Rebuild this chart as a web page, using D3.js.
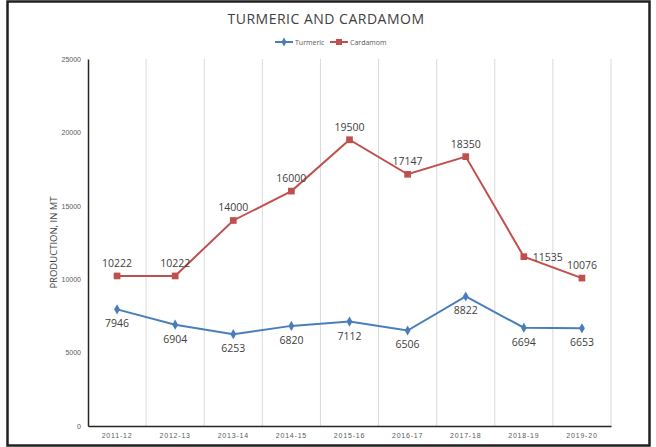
<!DOCTYPE html>
<html>
<head>
<meta charset="utf-8">
<script src="https://cdn.jsdelivr.net/npm/d3@7"></script>
<style>
  body { margin: 0; background: #fff; }
  svg { display: block; font-family: "Open Sans", sans-serif; }
  .grid line { stroke: #d9d9d9; stroke-width: 1; }
  .axis path, .axis line { stroke: #262626; }
  .axis text { fill: #595959; font-size: 7px; }
  .xaxis text { letter-spacing: 0.8px; }
  .lbl { fill: #404040; font-size: 10.5px; text-anchor: middle; }
</style>
</head>
<body>
<svg id="chart" width="656" height="447"></svg>
<script>
var categories = ["2011-12", "2012-13", "2013-14", "2014-15", "2015-16", "2016-17", "2017-18", "2018-19", "2019-20"];
var turmeric = [7946, 6904, 6253, 6820, 7112, 6506, 8822, 6694, 6653];
var cardamom = [10222, 10222, 14000, 16000, 19500, 17147, 18350, 11535, 10076];
var yTicks = [0, 5000, 10000, 15000, 20000, 25000];

var margin = {top: 59, right: 45, bottom: 21, left: 88};
var width = 656 - margin.left - margin.right;
var height = 447 - margin.top - margin.bottom;

var svg = d3.select("#chart");

// outer frame
svg.append("rect")
  .attr("x", 7.5).attr("y", 1.5)
  .attr("width", 642).attr("height", 444)
  .attr("fill", "none").attr("stroke", "#231f20").attr("stroke-width", 2.5);

var g = svg.append("g")
  .attr("transform", "translate(" + margin.left + "," + margin.top + ")");

var x = d3.scaleBand().domain(categories).range([0, width]).paddingInner(0).paddingOuter(0);
var y = d3.scaleLinear().domain([0, 25000]).range([height, 0]);
var cx = function (d, i) { return x(categories[i]) + x.bandwidth() / 2; };

// vertical gridlines at category boundaries
g.append("g").attr("class", "grid")
  .selectAll("line")
  .data(categories)
  .enter().append("line")
  .attr("x1", function (d) { return x(d) + x.bandwidth(); })
  .attr("x2", function (d) { return x(d) + x.bandwidth(); })
  .attr("y1", 0).attr("y2", height);

// axes
g.append("g").attr("class", "axis yaxis")
  .call(d3.axisLeft(y).tickValues(yTicks).tickSize(0).tickPadding(7).tickFormat(d3.format("d")))
  .select(".domain").attr("stroke-width", 1.5);

g.append("g").attr("class", "axis xaxis")
  .attr("transform", "translate(0," + height + ")")
  .call(d3.axisBottom(x).tickSize(0).tickPadding(7))
  .select(".domain").attr("stroke-width", 1.5);

// axis title
svg.append("text")
  .attr("transform", "translate(57," + (margin.top + height / 2) + ") rotate(-90)")
  .attr("text-anchor", "middle")
  .attr("fill", "#404040")
  .attr("font-size", "9.5px")
  .text("PRODUCTION, IN MT");

// chart title
svg.append("text")
  .attr("x", 326).attr("y", 24)
  .attr("text-anchor", "middle")
  .attr("fill", "#404040")
  .attr("font-size", "14px")
  .attr("letter-spacing", "0.5px")
  .text("TURMERIC AND CARDAMOM");

var line = d3.line()
  .x(function (d, i) { return cx(d, i); })
  .y(function (d) { return y(d); });

var series = [
  {name: "Turmeric", values: turmeric, color: "#4a7ebb", marker: d3.symbolDiamond, size: 30, dy: 18},
  {name: "Cardamom", values: cardamom, color: "#c0504d", marker: d3.symbolSquare, size: 45, dy: -9}
];

series.forEach(function (s) {
  g.append("path")
    .datum(s.values)
    .attr("fill", "none")
    .attr("stroke", s.color)
    .attr("stroke-width", 2)
    .attr("d", line);

  g.selectAll(".m-" + s.name)
    .data(s.values)
    .enter().append("path")
    .attr("transform", function (d, i) { return "translate(" + cx(d, i) + "," + y(d) + ")"; })
    .attr("d", d3.symbol().type(s.marker).size(s.size))
    .attr("fill", s.color);

  g.selectAll(".l-" + s.name)
    .data(s.values)
    .enter().append("text")
    .attr("class", "lbl")
    .attr("x", function (d, i) {
      // Excel pushed this one label to the right of its marker
      return cx(d, i) + (s.name === "Cardamom" && i === 7 ? 24 : 0);
    })
    .attr("y", function (d, i) {
      return y(d) + (s.name === "Cardamom" && i === 7 ? 4 : s.dy);
    })
    .text(function (d) { return d; });
});

// legend
var legend = svg.append("g").attr("transform", "translate(275,42)");
series.forEach(function (s, i) {
  var lg = legend.append("g").attr("transform", "translate(" + (i * 55) + ",0)");
  lg.append("line").attr("x1", 0).attr("x2", 18).attr("stroke", s.color).attr("stroke-width", 2);
  lg.append("path").attr("transform", "translate(9,0)")
    .attr("d", d3.symbol().type(s.marker).size(s.size * 0.8)).attr("fill", s.color);
  lg.append("text").attr("x", 20).attr("y", 2.5)
    .attr("font-size", "7px").attr("fill", "#595959").text(s.name);
});
</script>
</body>
</html>
